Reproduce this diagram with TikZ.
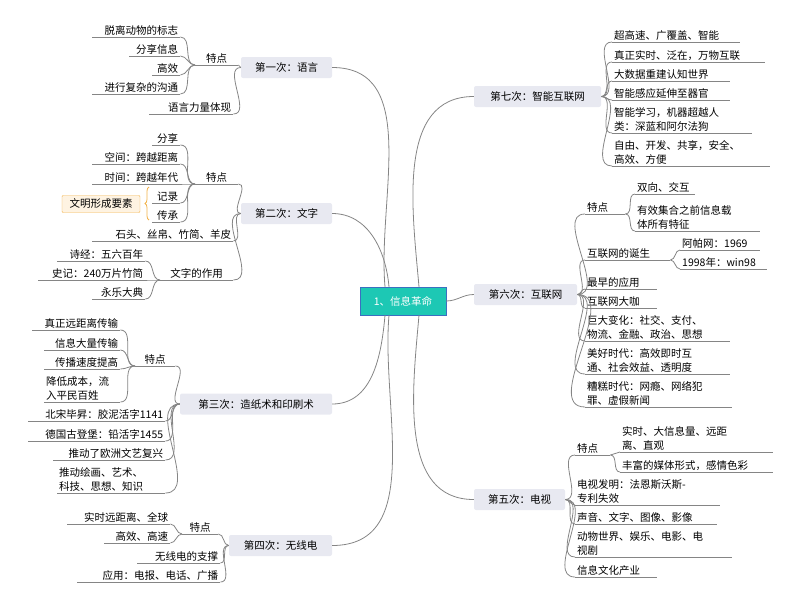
\documentclass[tikz,border=0pt]{standalone}
\usepackage{fontspec}
\setmainfont{Noto Sans CJK SC}
\usepackage{tikz}
\usetikzlibrary{decorations.pathreplacing}

\definecolor{linegray}{HTML}{858585}
\definecolor{topicfill}{HTML}{E8E9F1}
\definecolor{rootfill}{HTML}{1DC8B4}
\definecolor{rootline}{HTML}{3B6FC0}
\definecolor{notefill}{HTML}{FEF3E2}
\definecolor{noteline}{HTML}{F2B24A}

\tikzset{
	link/.style={draw=linegray,line width=0.8pt},
	leaf/.style={inner xsep=2pt,inner ysep=1.5pt,anchor=south west,font=\fontsize{10.5}{14}\selectfont},
	lleaf/.style={leaf,align=right},
	rleaf/.style={leaf,align=left},
	mleaf/.style={leaf,align=center},
	topic/.style={fill=topicfill,rounded corners=2pt,minimum height=21pt,inner sep=0pt,font=\fontsize{10.5}{14}\selectfont},
}
% leaf with underline
\newcommand\leaf[6][lleaf]{%
	\node[#1,text width={(#4-#3-4)*1pt}] (#2) at (#3,#5) {#6};
	\draw[link] (#2.south west) -- (#2.south east);}
\newcommand\lk[2]{\draw[link] (#1) to[out=180,in=0] (#2.south east);}
\newcommand\rk[2]{\draw[link] (#1) to[out=0,in=180] (#2.south west);}

\begin{document}
\begin{tikzpicture}[x=1pt,y=-1pt]
	\useasboundingbox (0,0) rectangle (800,603);
	\node[fill=rootfill,draw=rootline,text=white,minimum width=86pt,minimum height=28pt,inner sep=0pt,font=\fontsize{10.5}{14}\selectfont] (root) at (403,301) {1、信息革命};
	
	% left side
	\node[topic,minimum width=91pt] (t1) at (286.5,67.5) {第一次：语言};
	\node[topic,minimum width=91pt] (t2) at (286.5,213.5) {第二次：文字};
	\node[topic,minimum width=152pt] (t3) at (256,404) {第三次：造纸术和印刷术};
	\node[topic,minimum width=103pt] (t4) at (280.5,545.5) {第四次：无线电};
	% right side
	\node[topic,minimum width=127pt] (t7) at (537.5,96.5) {第七次：智能互联网};
	\node[topic,minimum width=103pt] (t6) at (525.5,294.5) {第六次：互联网};
	\node[topic,minimum width=91pt] (t5) at (519.5,499.5) {第五次：电视};
	
	\draw[link] ([xshift=-18pt]root.north) to[out=95,in=0] (t1.east);
	\draw[link] ([xshift=-14pt]root.north) to[out=95,in=0] (t2.east);
	\draw[link] ([xshift=-18pt]root.south) to[out=-95,in=0] (t3.east);
	\draw[link] ([xshift=-14pt]root.south) to[out=-95,in=0] (t4.east);
	\draw[link] ([xshift=16pt]root.north) to[out=95,in=180] (t7.west);
	\draw[link] (root.east) to[out=0,in=180] (t6.west);
	\draw[link] ([xshift=16pt]root.south) to[out=-95,in=180] (t5.west);
	
	% first: language
	\leaf[mleaf]{a}{195}{238}{65}{特点}
	\leaf{a1}{92}{180}{37}{脱离动物的标志}
	\leaf{a2}{129}{180}{56}{分享信息}
	\leaf{a3}{152}{180}{75}{高效}
	\leaf{a4}{92}{180}{94}{进行复杂的沟通}
	\leaf{a5}{149}{233}{114}{语言力量体现}
	\lk{t1.west}{a} \lk{t1.west}{a5}
	\foreach \n in {a1,a2,a3,a4} {\lk{a.south west}{\n}}
	
	% second: writing
	\leaf[mleaf]{b}{195}{238}{184}{特点}
	\leaf{b1}{152}{180}{145}{分享}
	\leaf{b2}{92}{180}{164}{空间：跨越距离}
	\leaf{b3}{92}{180}{184}{时间：跨越年代}
	\leaf{b4}{152}{180}{203}{记录}
	\leaf{b5}{152}{180}{222}{传承}
	\leaf{b6}{92}{233}{241}{石头、丝帛、竹简、羊皮}
	\leaf[mleaf]{c}{160}{233}{280}{文字的作用}
	\leaf{c1}{57}{145}{261}{诗经：五六百年}
	\leaf{c2}{38}{145}{280}{史记：240万片竹简}
	\leaf{c3}{92}{145}{299}{永乐大典}
	\foreach \n in {b,b6,c} {\lk{t2.west}{\n}}
	\foreach \n in {b1,b2,b3,b4,b5} {\lk{b.south west}{\n}}
	\foreach \n in {c1,c2,c3} {\lk{c.south west}{\n}}
	\draw[noteline,line width=0.8pt,decoration={brace,amplitude=4pt},decorate] (149,220) -- (149,187);
	\node[fill=notefill,draw=noteline,rounded corners=1pt,minimum width=78pt,minimum height=17pt,inner sep=0pt,font=\fontsize{10.5}{14}\selectfont] (wm) at (101,204) {文明形成要素};
	
	% third: paper and printing
	\leaf[mleaf]{d}{135}{175}{366}{特点}
	\leaf{d1}{32}{120}{330}{真正远距离传输}
	\leaf{d2}{44}{120}{350}{信息大量传输}
	\leaf{d3}{44}{120}{369}{传播速度提高}
	\leaf[rleaf]{d4}{44}{120}{402}{降低成本，流\\入平民百姓}
	\leaf{d5}{28}{165}{421}{北宋毕昇：胶泥活字1141}
	\leaf{d6}{28}{165}{441}{德国古登堡：铅活字1455}
	\leaf{d7}{53}{165}{460}{推动了欧洲文艺复兴}
	\leaf[rleaf]{d8}{57}{165}{493}{推动绘画、艺术、\\科技、思想、知识}
	\foreach \n in {d,d5,d6,d7,d8} {\lk{t3.west}{\n}}
	\foreach \n in {d1,d2,d3,d4} {\lk{d.south west}{\n}}
	
	% fourth: radio
	\leaf[mleaf]{e}{182}{218}{534}{特点}
	\leaf{e1}{67}{170}{524}{实时远距离、全球}
	\leaf{e2}{104}{170}{543}{高效、高速}
	\leaf{e3}{137}{220}{563}{无线电的支撑}
	\leaf{e4}{77}{220}{582}{应用：电报、电话、广播}
	\foreach \n in {e,e3,e4} {\lk{t4.west}{\n}}
	\foreach \n in {e1,e2} {\lk{e.south west}{\n}}
	
	% seventh: smart internet
	\leaf[rleaf]{f1}{612}{740}{42}{超高速、广覆盖、智能}
	\leaf[rleaf]{f2}{612}{765}{62}{真正实时、泛在，万物互联}
	\leaf[rleaf]{f3}{612}{730}{81}{大数据重建认知世界}
	\leaf[rleaf]{f4}{612}{730}{100}{智能感应延伸至器官}
	\leaf[rleaf]{f5}{612}{752}{133}{智能学习，机器超越人\\类：深蓝和阿尔法狗}
	\leaf[rleaf]{f6}{612}{770}{166}{自由、开发、共享，安全、\\高效、方便}
	\foreach \n in {f1,f2,f3,f4,f5,f6} {\rk{t7.east}{\n}}
	
	% sixth: internet
	\leaf[rleaf]{g}{585}{625}{214}{特点}
	\leaf[rleaf]{g1}{635}{695}{194}{双向、交互}
	\leaf[rleaf]{g2}{635}{760}{231}{有效集合之前信息载\\体所有特征}
	\leaf[rleaf]{h}{585}{670}{260}{互联网的诞生}
	\leaf[rleaf]{h1}{680}{760}{250}{阿帕网：1969}
	\leaf[rleaf]{h2}{680}{767}{269}{1998年：win98}
	\leaf[rleaf]{g3}{585}{657}{289}{最早的应用}
	\leaf[rleaf]{g4}{585}{657}{308}{互联网大咖}
	\leaf[rleaf]{g5}{585}{730}{341}{巨大变化：社交、支付、\\物流、金融、政治、思想}
	\leaf[rleaf]{g6}{585}{730}{374}{美好时代：高效即时互\\通、社会效益、透明度}
	\leaf[rleaf]{g7}{585}{732}{407}{糟糕时代：网瘾、网络犯\\罪、虚假新闻}
	\foreach \n in {g,h,g3,g4,g5,g6,g7} {\rk{t6.east}{\n}}
	\foreach \n in {g1,g2} {\rk{g.south east}{\n}}
	\foreach \n in {h1,h2} {\rk{h.south east}{\n}}
	
	% fifth: television
	\leaf[rleaf]{k}{575}{610}{455}{特点}
	\leaf[rleaf]{k1}{620}{773}{452}{实时、大信息量、远距\\离、直观}
	\leaf[rleaf]{k2}{620}{773}{472}{丰富的媒体形式，感情色彩}
	\leaf[rleaf]{k3}{575}{720}{505}{电视发明：法恩斯沃斯-\\专利失效}
	\leaf[rleaf]{k4}{575}{717}{524}{声音、文字、图像、影像}
	\leaf[rleaf]{k5}{575}{732}{557}{动物世界、娱乐、电影、电\\视剧}
	\leaf[rleaf]{k6}{575}{657}{577}{信息文化产业}
	\foreach \n in {k,k3,k4,k5,k6} {\rk{t5.east}{\n}}
	\foreach \n in {k1,k2} {\rk{k.south east}{\n}}
\end{tikzpicture}
\end{document}
